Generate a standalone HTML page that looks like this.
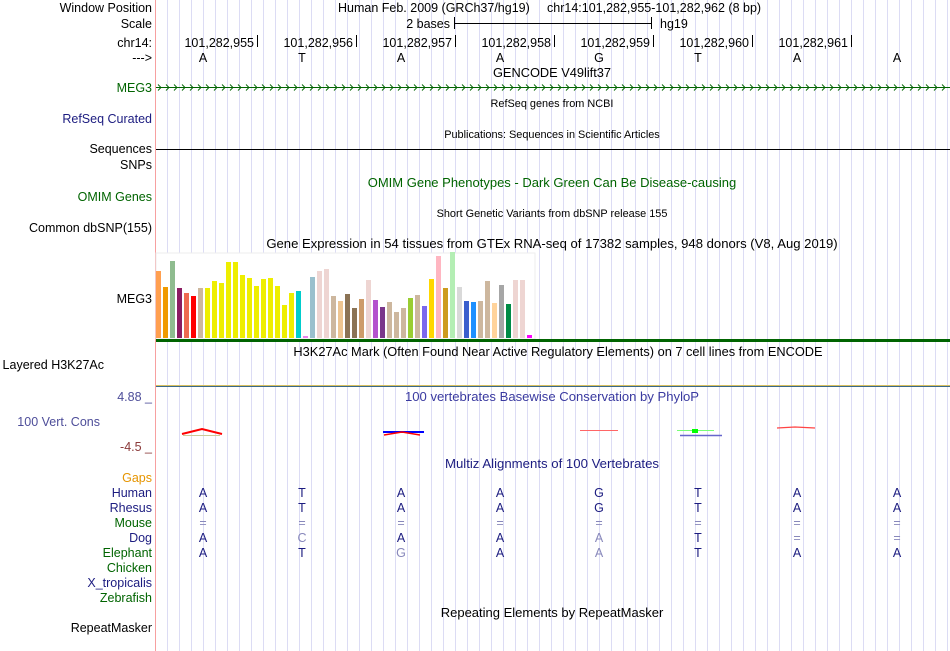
<!DOCTYPE html>
<html><head><meta charset="utf-8"><style>
body{margin:0;background:#fff;width:950px;height:651px;overflow:hidden}
svg{display:block;font-family:"Liberation Sans",sans-serif}
</style></head><body>
<svg id="s" width="950" height="651" viewBox="0 0 950 651">
<g id="grid"></g>
<line x1="155.5" y1="0" x2="155.5" y2="651" stroke="#f7a0a0" stroke-width="1"/>
<g font-size="12.5" text-anchor="end">
<text x="152" y="12" fill="#000">Window Position</text>
<text x="152" y="28" fill="#000">Scale</text>
<text x="152" y="47" fill="#000">chr14:</text>
<text x="152" y="62" fill="#000">---&gt;</text>
<text x="152" y="92" fill="#006400">MEG3</text>
<text x="152" y="123" fill="#1c1c80">RefSeq Curated</text>
<text x="152" y="153" fill="#000">Sequences</text>
<text x="152" y="169" fill="#000">SNPs</text>
<text x="152" y="201" fill="#006400">OMIM Genes</text>
<text x="152" y="232" fill="#000">Common dbSNP(155)</text>
<text x="152" y="303" fill="#000">MEG3</text>
<text x="104" y="369" fill="#000">Layered H3K27Ac</text>
<text x="152" y="401" fill="#4d4d99">4.88 _</text>
<text x="100" y="426" fill="#4d4d99">100 Vert. Cons</text>
<text x="152" y="451" fill="#8b3a3a">-4.5 _</text>
<text x="152" y="482" fill="#e69500">Gaps</text>
<text x="152" y="497" fill="#1c1c80">Human</text>
<text x="152" y="512" fill="#1c1c80">Rhesus</text>
<text x="152" y="527" fill="#006400">Mouse</text>
<text x="152" y="542" fill="#1c1c80">Dog</text>
<text x="152" y="557" fill="#006400">Elephant</text>
<text x="152" y="572" fill="#006400">Chicken</text>
<text x="152" y="587" fill="#1c1c80">X_tropicalis</text>
<text x="152" y="602" fill="#006400">Zebrafish</text>
<text x="152" y="632" fill="#000">RepeatMasker</text>
</g>
<g font-size="12.5">
<text x="338" y="12">Human Feb. 2009 (GRCh37/hg19)</text>
<text x="547" y="12">chr14:101,282,955-101,282,962 (8 bp)</text>
<text x="450" y="28" text-anchor="end">2 bases</text>
<line x1="454.5" y1="17" x2="454.5" y2="29" stroke="#000"/>
<line x1="651.5" y1="17" x2="651.5" y2="29" stroke="#000"/>
<line x1="454" y1="23.5" x2="652" y2="23.5" stroke="#000"/>
<text x="660" y="28">hg19</text>
</g>
<g id="ruler" font-size="12.5"></g>
<line x1="156" y1="87.5" x2="950" y2="87.5" stroke="#006400"/>
<g id="chev" fill="none" stroke="#006400" stroke-width="0.9"></g>
<g text-anchor="middle">
<text x="552" y="77" font-size="12.8">GENCODE V49lift37</text>
<text x="552" y="107" font-size="10.9">RefSeq genes from NCBI</text>
<text x="552" y="138" font-size="10.9">Publications: Sequences in Scientific Articles</text>
<text x="552" y="187" font-size="13" fill="#006400">OMIM Gene Phenotypes - Dark Green Can Be Disease-causing</text>
<text x="552" y="217" font-size="10.9">Short Genetic Variants from dbSNP release 155</text>
<text x="552" y="248" font-size="13.1">Gene Expression in 54 tissues from GTEx RNA-seq of 17382 samples, 948 donors (V8, Aug 2019)</text>
<text x="558" y="356" font-size="12.8">H3K27Ac Mark (Often Found Near Active Regulatory Elements) on 7 cell lines from ENCODE</text>
<text x="552" y="401" font-size="13.1" fill="#3a3aa0">100 vertebrates Basewise Conservation by PhyloP</text>
<text x="552" y="468" font-size="13.2" fill="#1c1c80">Multiz Alignments of 100 Vertebrates</text>
<text x="552" y="617" font-size="13">Repeating Elements by RepeatMasker</text>
</g>
<line x1="156" y1="149.5" x2="950" y2="149.5" stroke="#000"/>
<rect x="156" y="253" width="379" height="86" fill="#fff" stroke="#eee"/>
<g id="gtex"></g>
<rect x="156" y="339" width="794" height="3" fill="#006400"/>
<rect x="156" y="385" width="794" height="1" fill="#d8c060"/>
<rect x="156" y="386" width="794" height="1" fill="#3a6a8a"/>
<g>
<path d="M182 434 L202 429 L222 434" fill="none" stroke="#f00" stroke-width="2"/>
<line x1="183" y1="435.5" x2="220" y2="435.5" stroke="#cc9" stroke-width="1"/>
<line x1="383" y1="432" x2="424" y2="432" stroke="#00f" stroke-width="2"/>
<path d="M384 435 L402 432 L420 435" fill="none" stroke="#f00" stroke-width="1.5"/>
<line x1="580" y1="430.5" x2="618" y2="430.5" stroke="#f66" stroke-width="1"/>
<line x1="677" y1="430.5" x2="714" y2="430.5" stroke="#7f7" stroke-width="1"/>
<rect x="692" y="429" width="6" height="4" fill="#0f0"/>
<line x1="680" y1="435.5" x2="722" y2="435.5" stroke="#66c" stroke-width="1.5"/>
<path d="M777 428 L795 427 L815 428" fill="none" stroke="#f44" stroke-width="1.2"/>
</g>
<g id="maf" font-size="12.5" text-anchor="middle"></g>
</svg>
<script>
const baseCenters=[203,302,401,500,599,698,797,897];
const refBases=["A","T","A","A","G","T","A","A"];
const positions=["101,282,955","101,282,956","101,282,957","101,282,958","101,282,959","101,282,960","101,282,961"];
const gtexValues=[67,51,77,50,45,42,50,50,57,55,76,76,63,60,52,59,60,52,33,45,47,2,61,67,69,42,37,44,30,39,58,38,31,36,26,30,40,43,32,59,82,50,86,51,37,36,37,57,35,53,34,58,58,3];
const gtexColors=["#ff9f4f","#f09a00","#8fbc8f","#8b1c62","#ee6a50","#ff0000","#cdb79e","#eeee00","#eeee00","#eeee00","#eeee00","#eeee00","#eeee00","#eeee00","#eeee00","#eeee00","#eeee00","#eeee00","#eeee00","#eeee00","#00cdcd","#ee82ee","#9ac0cd","#eed5d2","#eed5d2","#cdb79e","#eec591","#8b7355","#8b7355","#cd9b69","#eed5d2","#b452cd","#7a378b","#cdb79e","#cdb79e","#cdb79e","#9acd32","#cdb79e","#7b68ee","#ffd700","#ffb6c1","#cd9b1d","#b4eeb4","#d9d9d9","#3a5fcd","#1e90ff","#cdb79e","#cdb79e","#ffd39b","#a6a6a6","#008b45","#eed5d2","#eed5d2","#ff00ff"];
const species=["Human","Rhesus","Mouse","Dog","Elephant"];
const speciesRows=[["A","T","A","A","G","T","A","A"],["A","T","A","A","G","T","A","A"],["=","=","=","=","=","=","=","="],["A","C","A","A","A","T","=","="],["A","T","G","A","A","T","A","A"]];
const NS="http://www.w3.org/2000/svg";
function mk(t,a,p){const e=document.createElementNS(NS,t);for(const k in a)e.setAttribute(k,a[k]);p.appendChild(e);return e;}
const grid=document.getElementById('grid');
for(let x=167;x<950;x+=12){const l=mk('line',{x1:x+.5,y1:0,x2:x+.5,y2:651,stroke:'#dcdcf4'},grid);

}
const ruler=document.getElementById('ruler');
positions.forEach((p,i)=>{const tx=baseCenters[i]+54;
const t=mk('text',{x:tx-3,y:47,'text-anchor':'end'},ruler);t.textContent=p;


const l=mk('line',{x1:tx+.5,y1:35,x2:tx+.5,y2:47,stroke:'#000'},ruler);

});
refBases.forEach((b,i)=>{const t=mk('text',{x:baseCenters[i],y:62,'text-anchor':'middle'},ruler);t.textContent=b;

});
const chev=document.getElementById('chev');
for(let x=158;x<950;x+=8){mk('path',{d:`M${x} 84.5 L${x+3} 87.5 L${x} 90.5`},chev);}
const g=document.getElementById('gtex');const base=338;
gtexValues.forEach((v,i)=>{const r=mk('rect',{x:156+i*7,y:base-v,width:5,height:v,fill:gtexColors[i]},g);

});
const maf=document.getElementById('maf');
speciesRows.forEach((row,r)=>{row.forEach((b,i)=>{const match=b===refBases[i];
const t=mk('text',{x:baseCenters[i],y:497+r*15,fill:(match&&b!=="=")?'#1c1c80':'#8888bb'},maf);t.textContent=b;

});});
</script>
</body></html>
